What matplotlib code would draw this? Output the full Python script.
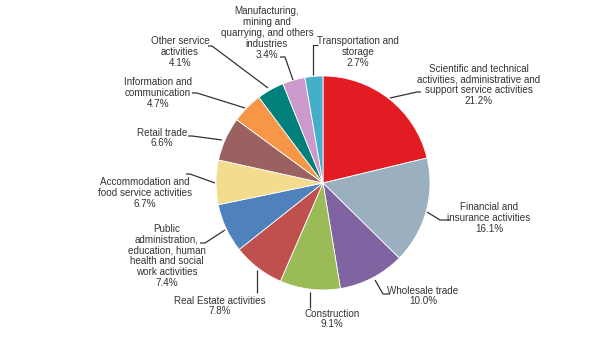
import matplotlib
matplotlib.use("Agg")
import matplotlib.pyplot as plt

# ---- data ----
sectors = [
    "Scientific and technical\nactivities, administrative and\nsupport service activities",
    "Financial and\ninsurance activities",
    "Wholesale trade",
    "Construction",
    "Real Estate activities",
    "Public\nadministration,\neducation, human\nhealth and social\nwork activities",
    "Accommodation and\nfood service activities",
    "Retail trade",
    "Information and\ncommunication",
    "Other service\nactivities",
    "Manufacturing,\nmining and\nquarrying, and others\nindustries",
    "Transportation and\nstorage",
]
shares = [21.2, 16.1, 10.0, 9.1, 7.8, 7.4, 6.7, 6.6, 4.7, 4.1, 3.4, 2.7]
colors = ["#E31B23", "#9AAFC0", "#8064A2", "#9BBB59", "#C0504D", "#4F81BD",
          "#F3DC8E", "#9B6161", "#F79646", "#007F7B", "#CC99CC", "#45AFC9"]

# ---- layout (pixel coords, y measured from top) ----
W, H = 605, 343
center = (323, 183)
radius = 107
# text centre positions
text_pos = [(479, 85), (489, 218), (423, 296), (332, 319), (220, 306), (167, 256),
            (145, 193), (162, 138), (158, 93), (180, 52), (267, 33), (358, 52)]
# leader polylines
leaders = [
    [(390, 98), (417, 92), (421, 92)],
    [(427, 212), (440, 220), (450, 220)],
    [(375, 280), (383, 294), (390, 294)],
    [(310, 292), (310, 308)],
    [(257, 270), (257, 293)],
    [(225, 230), (205, 243), (200, 243)],
    [(215, 183), (190, 174), (186, 174)],
    [(222, 140), (192, 136), (188, 136)],
    [(245, 108), (197, 93), (192, 93)],
    [(268, 88), (212, 46), (208, 46)],
    [(293, 80), (285, 57), (280, 57)],
    [(313, 75), (313, 45), (318, 45)],
]

def Y(y):
    return H - y

plt.rcParams['font.family'] = ['Liberation Sans', 'DejaVu Sans']
fig = plt.figure(figsize=(W / 100, H / 100), dpi=100)
ax = fig.add_axes([0, 0, 1, 1])

ax.pie(shares, colors=colors, startangle=90, counterclock=False,
       center=(center[0], Y(center[1])), radius=radius, frame=True,
       wedgeprops=dict(edgecolor='white', linewidth=0.6))
ax.set_xlim(0, W)
ax.set_ylim(0, H)
ax.set_aspect('equal')
ax.axis('off')

for name, val, (tx, ty), pts in zip(sectors, shares, text_pos, leaders):
    ax.text(tx, Y(ty), f"{name}\n{val:.1f}%", ha='center', va='center',
            fontsize=7.1, color='#333333', linespacing=1.1)
    xs = [p[0] for p in pts]
    ys = [Y(p[1]) for p in pts]
    ax.plot(xs, ys, color='#333333', lw=0.9, solid_capstyle='butt')

fig.savefig("out.png", dpi=100)
